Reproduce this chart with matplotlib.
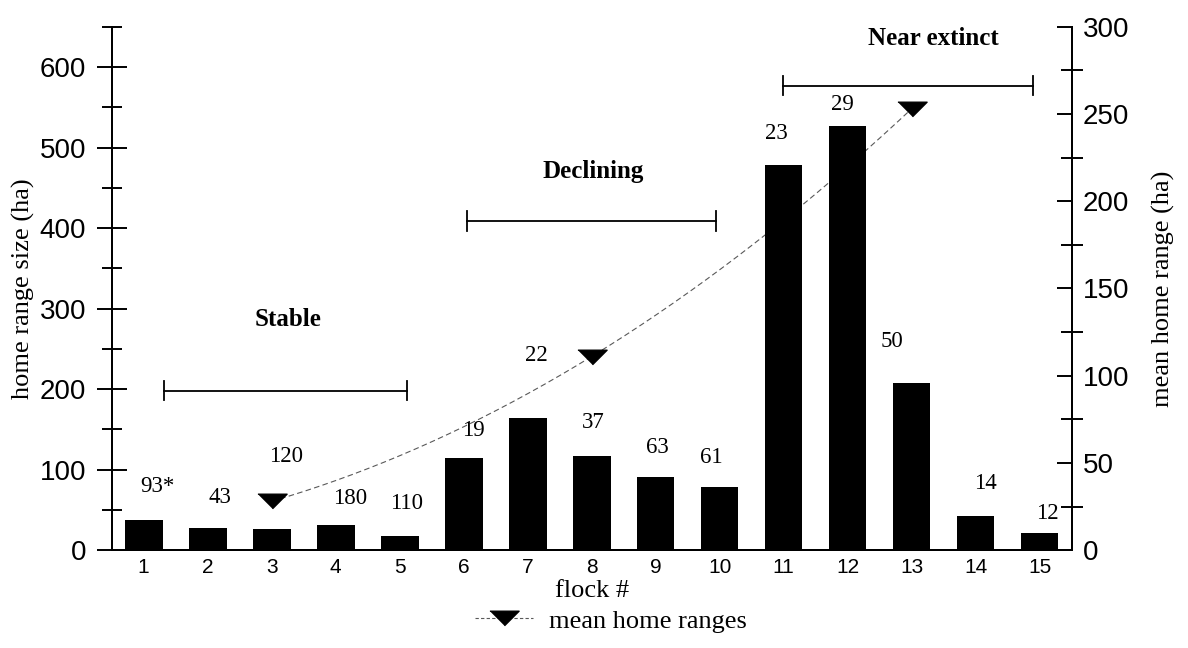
import numpy as np
import matplotlib
matplotlib.use("Agg")
from matplotlib import pyplot as plt
from matplotlib.lines import Line2D
from matplotlib.ticker import MultipleLocator, FixedLocator

# flock data
flocks = np.arange(1, 16)
home_range = [37, 28, 26, 31, 18, 115, 164, 117, 91, 79, 478, 527, 207, 43, 21]   # ha, left axis
flock_labels = ["93*", "43", "120", "180", "110", "19", "22", "37", "63", "61",
                "23", "29", "50", "14", "12"]
label_x = [1.22, 2.19, 3.22, 4.22, 5.11, 6.16, 7.14, 8.02, 9.02, 9.87,
           10.88, 11.92, 12.69, 14.15, 15.12]
label_y = [79, 66, 116, 64, 58, 148, 242, 158, 128, 115, 518, 553, 259, 83, 46]

# mean home range per status group (right axis)
mean_x = [3, 8, 13]
mean_range = [28, 111, 253]

# status groups: name, span of flocks, bracket height, title position
groups = ["Stable", "Declining", "Near extinct"]
group_span = [(1.32, 5.12), (6.05, 9.95), (10.99, 14.9)]
group_y = [198, 409, 577]
title_xy = [(3.26, 286), (8.03, 470), (13.34, 636)]

serif = "Liberation Serif"
sans = "Liberation Sans"

fig = plt.figure(figsize=(11.88, 6.48), dpi=100)
ax = fig.add_axes([0.094, 0.151, 0.808, 0.8076])
ax2 = ax.twinx()

# bars on top of the trend line
ax.set_zorder(2)
ax.patch.set_visible(False)

ax.bar(flocks, home_range, width=0.59, color="black", zorder=3)

for x, y, s in zip(label_x, label_y, flock_labels):
    ax.text(x, y, s, ha="center", va="center", fontsize=16.5, family=serif)

for name, (x0, x1), y, (tx, ty) in zip(groups, group_span, group_y, title_xy):
    ax.plot([x0, x1], [y, y], color="black", lw=1.3)
    ax.plot([x0, x0], [y - 12, y + 12], color="black", lw=1.3)
    ax.plot([x1, x1], [y - 12, y + 12], color="black", lw=1.3)
    ax.text(tx, ty, name, ha="center", va="center", fontsize=18,
            fontweight="bold", family=serif)

# fitted trend through the group means
tri = [(-1, 0.5), (1, 0.5), (0, -0.5)]
coef = np.polyfit(mean_x, mean_range, 2)
xs = np.linspace(mean_x[0], mean_x[-1], 200)
ax2.plot(xs, np.polyval(coef, xs), color="0.35", lw=0.8, dashes=(5, 3))
ax2.plot(mean_x, mean_range, ls="none", marker=tri, markersize=21,
         color="black")

# axes
ax.set_xlim(0.5, 15.5)
ax.set_ylim(0, 650)
ax2.set_ylim(0, 300)

ax.set_xticks(flocks)
ax.tick_params(axis="x", length=0, pad=6, labelsize=15)
for lab in ax.get_xticklabels():
    lab.set_family(sans)

ax.yaxis.set_major_locator(MultipleLocator(100))
ax.yaxis.set_minor_locator(FixedLocator(np.arange(50, 651, 100)))
ax.yaxis.set_major_formatter(lambda v, p: "" if v > 600 else f"{v:.0f}")
ax.tick_params(axis="y", which="major", direction="inout", length=21,
               width=1.4, labelsize=20, pad=8)
ax.tick_params(axis="y", which="minor", direction="inout", length=14,
               width=1.4)
for lab in ax.get_yticklabels():
    lab.set_family(sans)

ax2.yaxis.set_major_locator(MultipleLocator(50))
ax2.yaxis.set_minor_locator(FixedLocator(np.arange(25, 301, 50)))
ax2.tick_params(axis="y", which="major", direction="in", length=11,
                width=1.4, labelsize=20, pad=8)
ax2.tick_params(axis="y", which="minor", direction="inout", length=16,
                width=1.4)
for lab in ax2.get_yticklabels():
    lab.set_family(sans)

for a in (ax, ax2):
    a.spines["top"].set_visible(False)
    for side in ("left", "right", "bottom"):
        a.spines[side].set_linewidth(1.4)

ax.set_xlabel("flock #", fontsize=19, family=serif, labelpad=2)
ax.set_ylabel("home range size (ha)", fontsize=19, family=serif, labelpad=3)
ax2.set_ylabel("mean home range (ha)", fontsize=19, family=serif, labelpad=16)

handle = Line2D([], [], color="0.35", lw=0.8, dashes=(3, 2), marker=tri,
                markersize=21, markerfacecolor="black", markeredgecolor="black")
fig.legend([handle], ["mean home ranges"], loc="center",
           bbox_to_anchor=(0.514, 0.042), frameon=False, numpoints=1,
           handlelength=2.2, handletextpad=0.6,
           prop={"family": serif, "size": 19})

fig.savefig("out.png", dpi=100)
